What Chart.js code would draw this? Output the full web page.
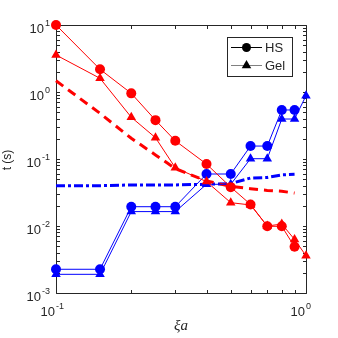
<!DOCTYPE html>
<html>
<head>
<meta charset="utf-8">
<script src="https://cdn.jsdelivr.net/npm/chart.js@4/dist/chart.umd.min.js"></script>
<style>
  html, body { margin: 0; padding: 0; background: #fff; }
  #wrap { width: 338px; height: 338px; }
</style>
</head>
<body>
<div id="wrap"><canvas id="chart" width="338" height="338"></canvas></div>
<script>
// xi*a values and measured times (s)
const XI = [0.1, 0.15, 0.2, 0.25, 0.3, 0.4, 0.5, 0.6, 0.7, 0.8, 0.9, 1.0];
const hsRed   = [10, 2.18, 0.955, 0.38, 0.187, 0.084, 0.038, 0.021, 0.0099, 0.0099, 0.0049];
const gelRed  = [3.57, 1.6, 0.42, 0.208, 0.074, 0.046, 0.0223, 0.0206, 0.0100, 0.0107, 0.0063, 0.0036];
const hsBlue  = [0.00226, 0.00226, 0.0194, 0.0194, 0.0194, 0.0597, 0.0597, 0.156, 0.156, 0.539, 0.539];
const gelBlue = [0.0019, 0.0019, 0.0164, 0.0164, 0.0164, 0.0419, 0.0419, 0.101, 0.101, 0.395, 0.395, 0.88];
const fitRed  = [1.47, 0.48, 0.204, 0.115, 0.072, 0.047, 0.039, 0.036, 0.034, 0.033, 0.031];
const fitBlue = [0.040, 0.040, 0.041, 0.041, 0.041, 0.042, 0.043, 0.052, 0.053, 0.058, 0.059];

const xTickExp = [-1, 0];
const yTickExp = [-3, -2, -1, 0, 1];
const legendNames = ['HS', 'Gel'];

const RED = '#ff0000', BLUE = '#0000ff', AXIS = '#262626';
const SANS = '"Liberation Sans", Arial, sans-serif';

function pts(ys) {
    return ys.map((y, k) => ({x: XI[k], y: y}));
}

function markerSet(ys, color, style) {
    return {
        data: pts(ys),
        borderColor: color,
        backgroundColor: color,
        borderWidth: 1,
        pointStyle: style,
        pointRadius: style === 'triangle' ? 5.5 : 5,
        pointBorderWidth: 0,
        clip: false,
    };
}

function lineSet(ys, color, dash) {
    return {
        data: pts(ys),
        borderColor: color,
        borderWidth: 3,
        borderDash: dash,
        pointRadius: 0,
        clip: false,
    };
}

// draws "10" with a raised exponent; ax = anchor x, cy = centre y of the base
function drawPow(ctx, exp, ax, cy, align) {
    ctx.font = `13px ${SANS}`;
    const wb = ctx.measureText('10').width;
    ctx.font = `9px ${SANS}`;
    const es = String(exp);
    const we = ctx.measureText(es).width;
    let xb;
    if (align === 'right') xb = ax - we - 1 - wb;
    else xb = ax - wb - 1;
    ctx.textAlign = 'left';
    ctx.textBaseline = 'alphabetic';
    ctx.font = `13px ${SANS}`;
    ctx.fillText('10', xb, cy + 4.6);
    ctx.font = `9px ${SANS}`;
    ctx.fillText(es, xb + wb + 1, cy - 5.5 + 3.2);
}

const frame = {
    id: 'frame',
    beforeDatasetsDraw(chart) {
        const {ctx, chartArea: a, scales: {x, y}} = chart;
        ctx.save();
        ctx.strokeStyle = AXIS;
        ctx.lineWidth = 1;
        ctx.beginPath();
        const L = Math.round(a.left) + 0.5, R = Math.round(a.right) + 0.5;
        const T = Math.round(a.top) + 0.5, B = Math.round(a.bottom) + 0.5;
        ctx.rect(L, T, R - L, B - T);
        const tl = 3.5;
        for (let d = -1; d <= 0; d++) {
            for (let m = 1; m <= 9; m++) {
                const v = m * Math.pow(10, d);
                if (v > 1.0001) continue;
                const px = Math.round(x.getPixelForValue(v)) + 0.5;
                ctx.moveTo(px, B); ctx.lineTo(px, B - tl);
                ctx.moveTo(px, T); ctx.lineTo(px, T + tl);
            }
        }
        for (let d = -3; d <= 1; d++) {
            for (let m = 1; m <= 9; m++) {
                const v = m * Math.pow(10, d);
                if (v > 10.0001) continue;
                const py = Math.round(y.getPixelForValue(v)) + 0.5;
                ctx.moveTo(L, py); ctx.lineTo(L + tl, py);
                ctx.moveTo(R, py); ctx.lineTo(R - tl, py);
            }
        }
        ctx.stroke();

        ctx.fillStyle = AXIS;
        for (const e of xTickExp) {
            drawPow(ctx, e, x.getPixelForValue(Math.pow(10, e)), a.bottom + 18, 'tick');
        }
        for (const e of yTickExp) {
            drawPow(ctx, e, a.left - 6, y.getPixelForValue(Math.pow(10, e)) + 3, 'right');
        }

        // axis titles
        ctx.textAlign = 'center';
        ctx.textBaseline = 'middle';
        ctx.font = 'italic 15px "Liberation Serif", "Times New Roman", serif';
        ctx.fillText('\u03BEa', (a.left + a.right) / 2, 326);
        ctx.save();
        ctx.translate(8, (a.top + a.bottom) / 2 + 1);
        ctx.rotate(-Math.PI / 2);
        ctx.font = `12px ${SANS}`;
        ctx.fillText('t (s)', 0, 0);
        ctx.restore();
        ctx.restore();
    },
    afterDraw(chart) {
        const ctx = chart.ctx;
        ctx.save();
        ctx.fillStyle = '#fff';
        ctx.strokeStyle = AXIS;
        ctx.lineWidth = 1;
        ctx.fillRect(227, 37, 66, 40);
        ctx.strokeRect(227.5, 37.5, 65, 39);
        const rows = [47, 65];
        const lineCols = ['#000', '#808080'];
        const styles = ['circle', 'triangle'];
        rows.forEach((ry, k) => {
            ctx.strokeStyle = lineCols[k];
            ctx.beginPath();
            ctx.moveTo(231, ry + 0.5);
            ctx.lineTo(262, ry + 0.5);
            ctx.stroke();
            ctx.fillStyle = '#000';
            ctx.strokeStyle = '#000';
            Chart.helpers.drawPoint(ctx, {pointStyle: styles[k], radius: k ? 5.5 : 4.5, borderWidth: 0, rotation: 0}, 246.5, ry + 0.5);
            ctx.fillStyle = AXIS;
            ctx.font = `13px ${SANS}`;
            ctx.textAlign = 'left';
            ctx.textBaseline = 'middle';
            ctx.fillText(legendNames[k], 265, ry + 1);
        });
        ctx.restore();
    },
};

const config = {
    type: 'line',
    data: {
        datasets: [
            markerSet(hsRed, RED, 'circle'),
            markerSet(gelRed, RED, 'triangle'),
            markerSet(hsBlue, BLUE, 'circle'),
            markerSet(gelBlue, BLUE, 'triangle'),
            lineSet(fitRed, RED, [9, 6]),
            lineSet(fitBlue, BLUE, [9, 3, 3, 3]),
        ],
    },
    options: {
        responsive: false,
        animation: false,
        devicePixelRatio: 1,
        layout: {padding: {left: 56, right: 32, top: 25, bottom: 45}},
        plugins: {legend: {display: false}, tooltip: {enabled: false}},
        scales: {
            x: {type: 'logarithmic', min: 0.1, max: 1, display: false},
            y: {type: 'logarithmic', min: 0.001, max: 10, display: false},
        },
    },
    plugins: [frame],
};

new Chart('chart', config);
</script>
</body>
</html>
